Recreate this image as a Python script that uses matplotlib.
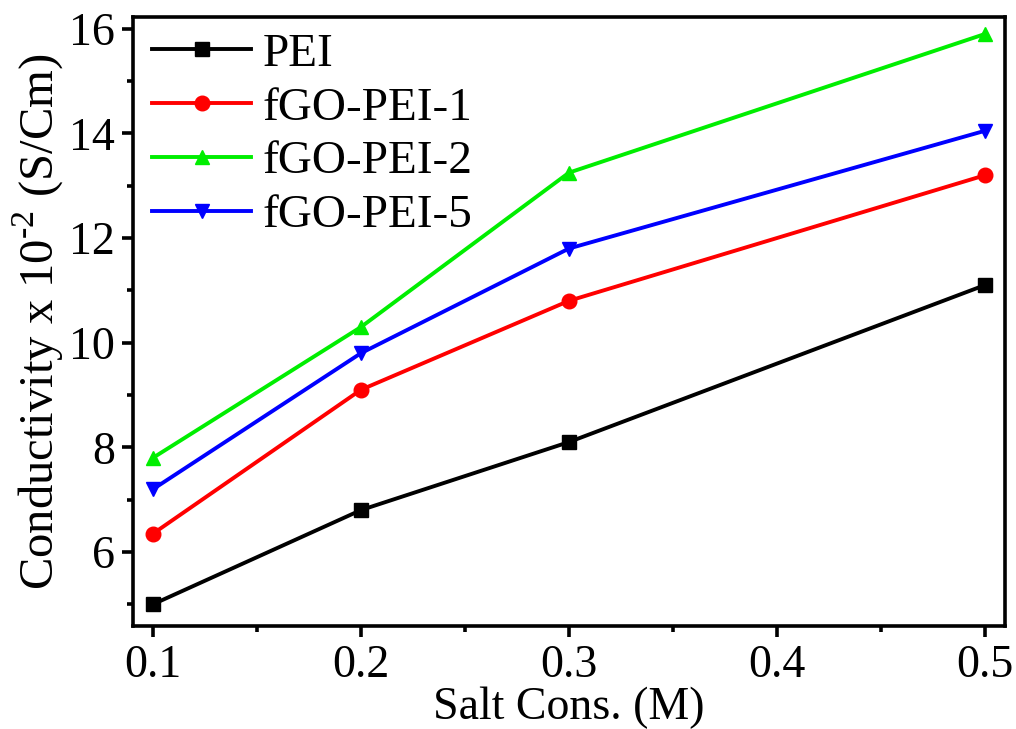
import numpy as np
import matplotlib
matplotlib.use('Agg')
import matplotlib.pyplot as plt
from matplotlib.ticker import MultipleLocator, AutoMinorLocator

plt.rcParams['font.family'] = ['Liberation Serif', 'DejaVu Serif']
plt.rcParams['mathtext.fontset'] = 'custom'
plt.rcParams['mathtext.rm'] = 'Liberation Serif'

# data
salt = [0.1, 0.2, 0.3, 0.5]
pei = [5.0, 6.8, 8.1, 11.1]
fgo_pei_1 = [6.35, 9.1, 10.8, 13.2]
fgo_pei_2 = [7.8, 10.3, 13.25, 15.9]
fgo_pei_5 = [7.2, 9.8, 11.8, 14.05]

series = [
    ('PEI', pei, 'black', 's'),
    ('fGO-PEI-1', fgo_pei_1, 'red', 'o'),
    ('fGO-PEI-2', fgo_pei_2, '#00ee00', '^'),
    ('fGO-PEI-5', fgo_pei_5, 'blue', 'v'),
]

fig = plt.figure(figsize=(10.16, 7.29), dpi=100)
ax = fig.add_axes([0.131, 0.141, 0.858, 0.836])

for label, vals, color, marker in series:
    ax.plot(salt, vals, color=color, marker=marker, lw=2.8, ms=10.5, label=label)

ax.set_xlim(0.0904, 0.5096)
ax.set_ylim(4.58, 16.23)
ax.xaxis.set_major_locator(MultipleLocator(0.1))
ax.xaxis.set_minor_locator(AutoMinorLocator(2))
ax.yaxis.set_major_locator(MultipleLocator(2))
ax.yaxis.set_minor_locator(AutoMinorLocator(2))
ax.xaxis.set_major_formatter(plt.FormatStrFormatter('%.1f'))

for s in ax.spines.values():
    s.set_linewidth(2.6)
ax.tick_params(which='major', direction='out', length=8, width=2.6, labelsize=33, pad=5)
ax.tick_params(which='minor', direction='out', length=4, width=2.6)

ax.set_xlabel('Salt Cons. (M)', fontsize=33, labelpad=0)
ax.set_ylabel(r'Conductivity x 10$^{\text{-2}}$ (S/Cm)', fontsize=35, labelpad=2)

ax.legend(loc='upper left', frameon=False, fontsize=34, handlelength=2.1,
          handletextpad=0.25, labelspacing=0.23, borderaxespad=0.0,
          bbox_to_anchor=(0.0, 1.005))

fig.savefig('out.png', dpi=100)
